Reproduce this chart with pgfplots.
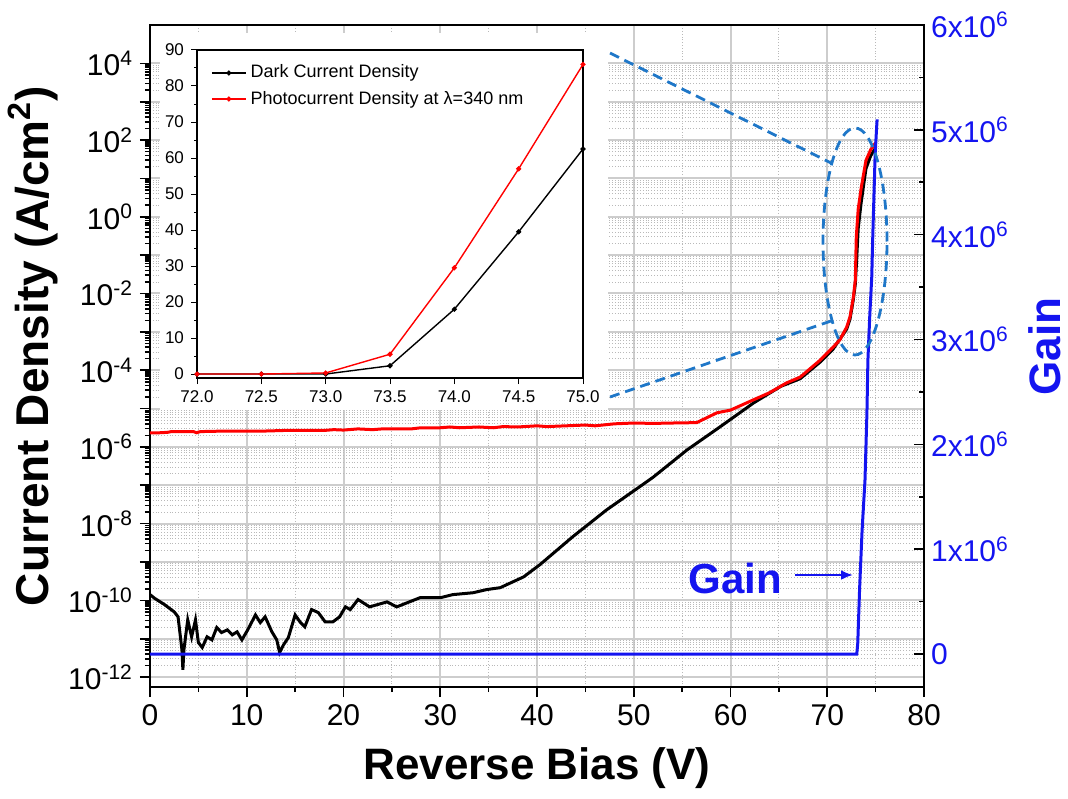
\documentclass[border=0pt]{standalone}
\usepackage{fontspec}
\setmainfont{Liberation Sans}
\usepackage{pgfplots}
\pgfplotsset{compat=1.18}
\usetikzlibrary{arrows.meta}
\definecolor{gainblue}{RGB}{20,20,240}
\definecolor{zoomblue}{RGB}{31,119,200}
\definecolor{gridgray}{RGB}{205,205,205}
\newcommand{\tickfont}{\fontsize{15}{18}\selectfont}
\newcommand{\insetfont}{\fontsize{8.5}{10}\selectfont}

\begin{document}
\begin{tikzpicture}
% main axis: current density (log)
\begin{axis}[
  name=main,
  scale only axis, width=387pt, height=331pt,
  xmin=0, xmax=80,
  ymode=log, ymin=5.5e-13, ymax=1e5,
  xtick={0,10,...,80}, minor x tick num=1,
  ytick={1e-12,1e-11,1e-10,1e-9,1e-8,1e-7,1e-6,1e-5,1e-4,1e-3,1e-2,1e-1,1,1e1,1e2,1e3,1e4},
  yticklabels={10\textsuperscript{-12},{},10\textsuperscript{-10},{},10\textsuperscript{-8},{},10\textsuperscript{-6},{},10\textsuperscript{-4},{},10\textsuperscript{-2},{},10\textsuperscript{0},{},10\textsuperscript{2},{},10\textsuperscript{4}},
  xtick pos=left, ytick pos=left, tick align=outside,
  major tick length=5pt, minor tick length=2.5pt,
  every tick/.style={black, line width=0.8pt},
  axis line style={line width=0.9pt},
  grid=both,
  major grid style={gridgray, line width=1pt},
  minor grid style={gray!55, densely dotted, line width=0.4pt},
  /pgf/number format/assume math mode=true,
  ticklabel style={font=\tickfont},
  xlabel={\textbf{Reverse Bias (V)}},
  ylabel={\textbf{Current Density (A/cm\textsuperscript{2})}},
  xlabel style={font=\fontsize{22}{26}\selectfont, at={(axis description cs:0.5,-0.122)}, anchor=center},
  ylabel style={font=\fontsize{23}{27}\selectfont, at={(axis description cs:-0.151,0.515)}, anchor=center},
]
% dark current density
\addplot[black, line width=1.5pt] coordinates {
  (0,1.41e-10)(0.5,1.12e-10)(1.5,7.76e-11)(2.5,5.01e-11)(2.9,3.72e-11)(3.3,5.13e-12)(3.4,1.55e-12)
  (3.5,5.01e-12)(3.7,1.26e-11)(3.9,3.09e-11)(4.3,1.12e-11)(4.7,3.09e-11)(5.0,7.94e-12)(5.4,5.89e-12)
  (5.9,1.12e-11)(6.4,9.33e-12)(6.9,1.95e-11)(7.4,1.45e-11)(8.0,1.70e-11)(8.5,1.26e-11)(9.0,1.51e-11)
  (9.5,9.33e-12)(10.1,1.70e-11)(10.9,4.17e-11)(11.4,2.63e-11)(11.9,3.72e-11)(12.6,1.51e-11)(13.1,9.33e-12)
  (13.4,4.37e-12)(13.8,6.92e-12)(14.3,1.07e-11)(15.0,4.17e-11)(15.5,2.75e-11)(16.0,2.04e-11)(16.7,5.75e-11)
  (17.4,4.79e-11)(18.1,2.75e-11)(18.9,2.75e-11)(19.6,3.72e-11)(20.2,6.76e-11)(20.7,5.75e-11)(21.5,1.05e-10)
  (22.7,6.76e-11)(24.5,9.12e-11)(25.5,6.76e-11)(27.9,1.17e-10)(30.0,1.17e-10)(31.3,1.41e-10)(33.4,1.58e-10)
  (34.8,1.91e-10)(36.2,2.14e-10)(38.6,4.07e-10)(40.3,8.51e-10)(43.7,4.57e-9)(47.2,2.29e-8)(50.6,9.12e-8)
  (52.0,1.62e-7)(55.5,8.32e-7)(58.9,3.31e-6)(62.4,1.41e-5)(65.2,3.8e-5)(67.2,6.0e-5)(69.3,1.66e-4)
  (70.6,3.55e-4)(72.0,1.17e-3)(72.35,2.14e-3)(72.7,7.08e-3)(72.9,1.78e-2)(73.0,0.05)(73.2,0.5)
  (73.5,2.3)(74.0,18)(74.5,39.5)(75.0,62.5)
};
% photocurrent density
\addplot[red, line width=1.5pt] coordinates {
  (0,2.34e-6)(1,2.34e-6)(1.8,2.40e-6)(2.2,2.51e-6)(4.5,2.51e-6)(4.8,2.34e-6)(5.2,2.51e-6)(8,2.60e-6)
  (12,2.60e-6)(14,2.69e-6)(18,2.69e-6)(19,2.82e-6)(20,2.75e-6)(21.5,2.95e-6)(23,2.82e-6)(24,2.95e-6)
  (27,2.95e-6)(28,3.16e-6)(30,3.16e-6)(31,3.31e-6)(32,3.16e-6)(34,3.31e-6)(35.5,3.16e-6)(36.5,3.39e-6)
  (38,3.31e-6)(40,3.55e-6)(41,3.39e-6)(43,3.55e-6)(45,3.72e-6)(46,3.55e-6)(48,4.0e-6)(50,4.2e-6)
  (52,4.1e-6)(54,4.2e-6)(56.5,4.3e-6)(58.6,7.76e-6)(60,9.12e-6)(62.3,1.66e-5)(64,2.57e-5)(65.8,4.68e-5)
  (67.2,6.61e-5)(69.3,1.86e-4)(70.6,3.98e-4)(71.3,6.17e-4)(72.0,1.32e-3)(72.35,2.45e-3)(72.7,8.13e-3)
  (72.9,2.24e-2)(73.0,0.3)(73.2,1.6)(73.5,5.5)(74.0,29.5)(74.5,57)(75.0,86)
};
\end{axis}
% right axis: gain
\begin{axis}[
  scale only axis, width=387pt, height=331pt,
  xmin=0, xmax=80, ymin=-0.314e6, ymax=6.0e6,
  axis x line=none, axis y line*=right,
  scaled y ticks=false,
  ytick={0,1000000,2000000,3000000,4000000,5000000,6000000},
  yticklabels={0,1x10\textsuperscript{6},2x10\textsuperscript{6},3x10\textsuperscript{6},4x10\textsuperscript{6},5x10\textsuperscript{6},6x10\textsuperscript{6}},
  minor y tick num=1,
  tick align=inside,
  major tick length=5pt, minor tick length=2.5pt,
  every tick/.style={black, line width=0.8pt},
  axis line style={line width=0.9pt},
  yticklabel style={font=\tickfont, text=gainblue},
  ylabel={\textbf{Gain}},
  ylabel style={font=\fontsize{22}{26}\selectfont, text=gainblue, at={(axis description cs:1.156,0.514)}, anchor=center},
]
\addplot[gainblue, line width=1.5pt] coordinates {
  (0,0)(73.05,0)(73.15,0.1e6)(73.35,0.64e6)(73.6,1.18e6)(73.9,1.66e6)(74.1,2.3e6)(74.2,2.8e6)
  (74.4,3.24e6)(74.6,3.6e6)(74.7,3.97e6)(74.95,4.77e6)(75.15,5.1e6)
};
\end{axis}
% white panel behind the inset
\fill[white] (5pt,138.5pt) rectangle (229pt,327pt);
% inset: linear zoom 72-75 V
\begin{axis}[
  at={(23.5pt,154.5pt)}, anchor=south west,
  scale only axis, width=193pt, height=164pt,
  xmin=72, xmax=75, ymin=-1.1, ymax=90,
  xtick={72,72.5,...,75}, ytick={0,10,...,90}, minor y tick num=1,
  tick align=outside, xtick pos=left, ytick pos=left,
  major tick length=3pt, minor tick length=1.5pt,
  every tick/.style={black, line width=0.5pt},
  axis line style={line width=0.6pt},
  /pgf/number format/assume math mode=true,
  xticklabel style={font=\insetfont, /pgf/number format/.cd, fixed, fixed zerofill, precision=1},
  yticklabel style={font=\insetfont},
  legend style={draw=none, fill=none, font=\fontsize{9}{11}\selectfont, at={(0.02,0.98)}, anchor=north west, row sep=1pt},
  legend cell align=left,
]
\addplot[black, line width=0.7pt, mark=*, mark size=0.9pt] coordinates {
  (72,0)(72.5,0)(73,0)(73.5,2.3)(74,18)(74.5,39.5)(75,62.5)
};
\addlegendentry{Dark Current Density}
\addplot[red, line width=0.7pt, mark=*, mark size=0.9pt] coordinates {
  (72,0)(72.5,0)(73,0.3)(73.5,5.5)(74,29.5)(74.5,57)(75,86)
};
\addlegendentry{Photocurrent Density at λ=340 nm}
\end{axis}
% zoom marks
\draw[zoomblue, line width=1.4pt, dash pattern=on 5pt off 3pt] (352.5pt,222.75pt) ellipse [x radius=16pt, y radius=56.75pt];
\draw[zoomblue, line width=1.4pt, dash pattern=on 5pt off 3pt] (230pt,317pt) -- (340.5pt,262pt);
\draw[zoomblue, line width=1.4pt, dash pattern=on 5pt off 3pt] (230pt,145pt) -- (340.5pt,183pt);
% gain annotation
\node[text=gainblue, font=\fontsize{21}{25}\selectfont\bfseries] at (292.5pt,54.5pt) {Gain};
\draw[gainblue, line width=1.2pt, -{Latex[length=6pt,width=5pt]}] (322.5pt,56pt) -- (351.5pt,56pt);
\pgfresetboundingbox
\path[use as bounding box] (-75pt,-55.5pt) rectangle (459pt,343.5pt);
\end{tikzpicture}
\end{document}
